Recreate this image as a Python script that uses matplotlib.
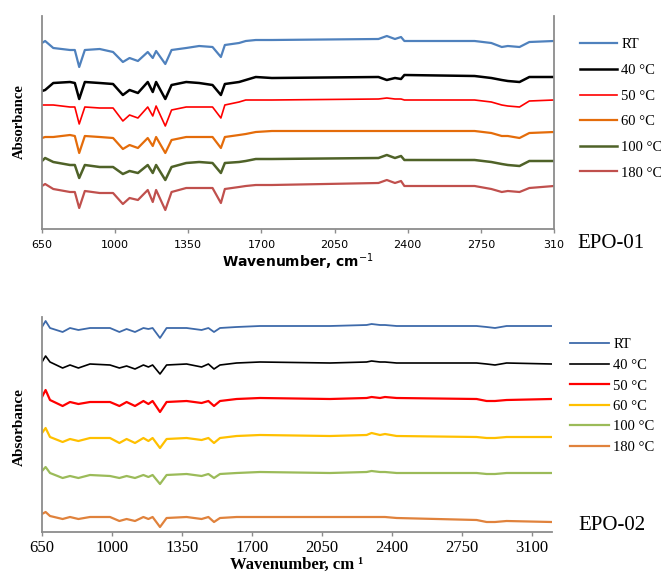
import matplotlib
matplotlib.use("Agg")
import matplotlib.pyplot as plt
from matplotlib.ticker import FixedLocator

# ---- EPO-01 (top panel) ----
WN1 = [650, 665, 704, 784, 807, 828, 855, 926, 990, 1037, 1069, 1109, 1156, 1180,
       1196, 1240, 1270, 1340, 1402, 1466, 1506, 1525, 1593, 1625, 1673, 1750,
       2260, 2300, 2339, 2368, 2384, 2720, 2800, 2850, 2879, 2935, 2982, 3100]

rt_1 = [1.86, 1.88, 1.81, 1.79, 1.79, 1.62, 1.79, 1.80, 1.77, 1.67, 1.71, 1.68, 1.77, 1.71,
        1.78, 1.65, 1.79, 1.81, 1.83, 1.82, 1.72, 1.84, 1.86, 1.88, 1.89, 1.89,
        1.90, 1.93, 1.90, 1.92, 1.88, 1.88, 1.86, 1.82, 1.83, 1.82, 1.87, 1.88]
c40_1 = [1.38, 1.39, 1.46, 1.47, 1.46, 1.30, 1.47, 1.46, 1.45, 1.34, 1.39, 1.36, 1.47, 1.37,
         1.47, 1.30, 1.44, 1.47, 1.46, 1.44, 1.34, 1.45, 1.47, 1.49, 1.52, 1.51,
         1.52, 1.49, 1.51, 1.50, 1.54, 1.53, 1.51, 1.49, 1.48, 1.47, 1.52, 1.52]
c50_1 = [1.24, 1.24, 1.24, 1.22, 1.22, 1.05, 1.22, 1.21, 1.21, 1.08, 1.14, 1.11, 1.22, 1.13,
         1.23, 1.03, 1.19, 1.22, 1.22, 1.22, 1.11, 1.24, 1.27, 1.29, 1.29, 1.29,
         1.30, 1.31, 1.30, 1.30, 1.29, 1.29, 1.27, 1.24, 1.23, 1.22, 1.28, 1.29]
c60_1 = [0.91, 0.92, 0.92, 0.94, 0.93, 0.76, 0.93, 0.92, 0.91, 0.80, 0.84, 0.81, 0.91, 0.83,
         0.92, 0.76, 0.89, 0.92, 0.92, 0.92, 0.81, 0.92, 0.94, 0.95, 0.97, 0.98,
         0.98, 0.98, 0.98, 0.98, 0.98, 0.98, 0.96, 0.93, 0.93, 0.91, 0.96, 0.97]
c100_1 = [0.68, 0.71, 0.67, 0.64, 0.64, 0.51, 0.64, 0.62, 0.62, 0.55, 0.58, 0.56, 0.64, 0.56,
          0.64, 0.49, 0.62, 0.66, 0.67, 0.66, 0.56, 0.66, 0.67, 0.68, 0.70, 0.70,
          0.71, 0.74, 0.71, 0.73, 0.69, 0.69, 0.67, 0.65, 0.64, 0.63, 0.68, 0.68]
c180_1 = [0.43, 0.45, 0.40, 0.37, 0.37, 0.21, 0.38, 0.36, 0.36, 0.25, 0.31, 0.29, 0.39, 0.27,
          0.39, 0.19, 0.37, 0.41, 0.41, 0.41, 0.26, 0.40, 0.42, 0.43, 0.44, 0.44,
          0.46, 0.49, 0.46, 0.48, 0.43, 0.43, 0.40, 0.37, 0.38, 0.37, 0.41, 0.43]

# ---- EPO-02 (bottom panel) ----
WN2 = [650, 668, 690, 753, 790, 832, 890, 990, 1037, 1073, 1115, 1157, 1182, 1203,
       1240, 1273, 1373, 1448, 1482, 1510, 1540, 1623, 1740, 2090, 2273, 2298,
       2340, 2365, 2423, 2823, 2873, 2915, 2973, 3198]

rt_2 = [2.05, 2.11, 2.04, 2.00, 2.04, 2.02, 2.04, 2.04, 2.00, 2.03, 2.00, 2.04, 2.03, 2.04,
        1.94, 2.04, 2.04, 2.02, 2.04, 2.00, 2.04, 2.05, 2.06, 2.06, 2.07, 2.08,
        2.07, 2.07, 2.06, 2.06, 2.05, 2.04, 2.06, 2.06]
c40_2 = [1.70, 1.76, 1.70, 1.64, 1.67, 1.64, 1.68, 1.67, 1.64, 1.66, 1.63, 1.67, 1.65, 1.67,
         1.58, 1.67, 1.68, 1.65, 1.68, 1.63, 1.67, 1.69, 1.70, 1.69, 1.70, 1.71,
         1.70, 1.70, 1.69, 1.69, 1.68, 1.67, 1.69, 1.68]
c50_2 = [1.35, 1.42, 1.32, 1.26, 1.30, 1.28, 1.30, 1.30, 1.26, 1.30, 1.26, 1.31, 1.28, 1.31,
         1.20, 1.30, 1.31, 1.29, 1.31, 1.26, 1.31, 1.33, 1.34, 1.33, 1.34, 1.35,
         1.34, 1.35, 1.34, 1.33, 1.31, 1.31, 1.32, 1.33]
c60_2 = [0.99, 1.04, 0.95, 0.90, 0.93, 0.91, 0.94, 0.94, 0.89, 0.93, 0.89, 0.94, 0.91, 0.94,
         0.84, 0.93, 0.94, 0.92, 0.94, 0.89, 0.94, 0.96, 0.97, 0.96, 0.97, 0.99,
         0.97, 0.98, 0.96, 0.95, 0.94, 0.94, 0.95, 0.95]
c100_2 = [0.61, 0.65, 0.59, 0.54, 0.56, 0.54, 0.57, 0.56, 0.54, 0.56, 0.54, 0.57, 0.55, 0.57,
          0.48, 0.57, 0.58, 0.56, 0.58, 0.54, 0.58, 0.59, 0.60, 0.59, 0.60, 0.61,
          0.60, 0.60, 0.59, 0.59, 0.58, 0.58, 0.59, 0.59]
c180_2 = [0.18, 0.20, 0.16, 0.13, 0.15, 0.13, 0.15, 0.15, 0.11, 0.13, 0.11, 0.15, 0.13, 0.15,
          0.05, 0.14, 0.15, 0.13, 0.15, 0.10, 0.14, 0.15, 0.15, 0.15, 0.15, 0.15,
          0.15, 0.15, 0.14, 0.12, 0.10, 0.10, 0.11, 0.10]

labels = ["RT", "40 °C", "50 °C", "60 °C", "100 °C", "180 °C"]
ticks = [650, 1000, 1350, 1700, 2050, 2400, 2750, 3100]
ticklabels_1 = ["650", "1000", "1350", "1700", "2050", "2400", "2750", "310"]
ticklabels_2 = ["650", "1000", "1350", "1700", "2050", "2400", "2750", "3100"]

colors_1 = ["#4F81BD", "#000000", "#FF0000", "#E46C0A", "#4F6228", "#C0504D"]
widths_1 = [1.6, 1.8, 1.2, 1.6, 1.8, 1.6]
colors_2 = ["#3E6AAA", "#000000", "#FF0000", "#FFC000", "#9BBB59", "#E0823C"]
widths_2 = [1.3, 1.2, 1.6, 1.6, 1.6, 1.6]

SERIF = "Liberation Serif"

fig = plt.figure(figsize=(6.61, 5.74), dpi=100)

ax1 = fig.add_axes([42 / 661, 1 - 229 / 574, 512 / 661, 213 / 574])
ax2 = fig.add_axes([42 / 661, 1 - 532 / 574, 510 / 661, 215 / 574])

series_1 = [rt_1, c40_1, c50_1, c60_1, c100_1, c180_1]
series_2 = [rt_2, c40_2, c50_2, c60_2, c100_2, c180_2]

for ys, c, w, lab in zip(series_1, colors_1, widths_1, labels):
    ax1.plot(WN1, ys, color=c, lw=w, label=lab)
for ys, c, w, lab in zip(series_2, colors_2, widths_2, labels):
    ax2.plot(WN2, ys, color=c, lw=w, label=lab)

ax1.set_xlim(650, 3100)
ax1.set_ylim(0, 2.13)
ax2.set_xlim(650, 3200)
ax2.set_ylim(0, 2.15)

for ax in (ax1, ax2):
    ax.set_yticks([])
    ax.spines["top"].set_visible(False)
    for s in ("left", "bottom", "right"):
        ax.spines[s].set_color("#8c8c8c")
        ax.spines[s].set_linewidth(1.3)
    ax.xaxis.set_major_locator(FixedLocator(ticks))
ax2.spines["right"].set_visible(False)

ax1.set_xticklabels(ticklabels_1, fontsize=8, family="DejaVu Sans")
ax1.tick_params(axis="x", length=3, width=1, color="#8c8c8c", pad=5)
ax2.set_xticklabels(ticklabels_2, fontsize=12, family=SERIF)
ax2.tick_params(axis="x", length=3, width=1, color="#8c8c8c", pad=3)

# axis titles
fig.text(298 / 661, 1 - 262 / 574, "Wavenumber, cm$^{-1}$", ha="center", va="center",
         fontsize=10, fontweight="bold", family="DejaVu Sans")
fig.text(297 / 661, 1 - 565 / 574, "Wavenumber, cm \u00b9", ha="center", va="center",
         fontsize=12, fontweight="bold", family=SERIF)
fig.text(19 / 661, 1 - 122 / 574, "Absorbance", rotation=90, ha="center", va="center",
         fontsize=10.5, fontweight="bold", family=SERIF)
fig.text(19 / 661, 1 - 427 / 574, "Absorbance", rotation=90, ha="center", va="center",
         fontsize=11, fontweight="bold", family=SERIF)

# panel tags
fig.text(611 / 661, 1 - 243 / 574, "EPO-01", ha="center", va="center",
         fontsize=15, family=SERIF)
fig.text(612 / 661, 1 - 525 / 574, "EPO-02", ha="center", va="center",
         fontsize=15, family=SERIF)

leg1 = ax1.legend(loc="upper left", bbox_to_anchor=(573 / 661, 1 - 31 / 574),
                  bbox_transform=fig.transFigure, frameon=False, borderpad=0,
                  handlelength=2.5, handletextpad=0.3, labelspacing=0.85,
                  prop={"family": SERIF, "size": 10.5})
leg2 = ax2.legend(loc="upper left", bbox_to_anchor=(563 / 661, 1 - 331 / 574),
                  bbox_transform=fig.transFigure, frameon=False, borderpad=0,
                  handlelength=2.65, handletextpad=0.3, labelspacing=0.5,
                  prop={"family": SERIF, "size": 10.5})

fig.savefig("out.png", dpi=100)
